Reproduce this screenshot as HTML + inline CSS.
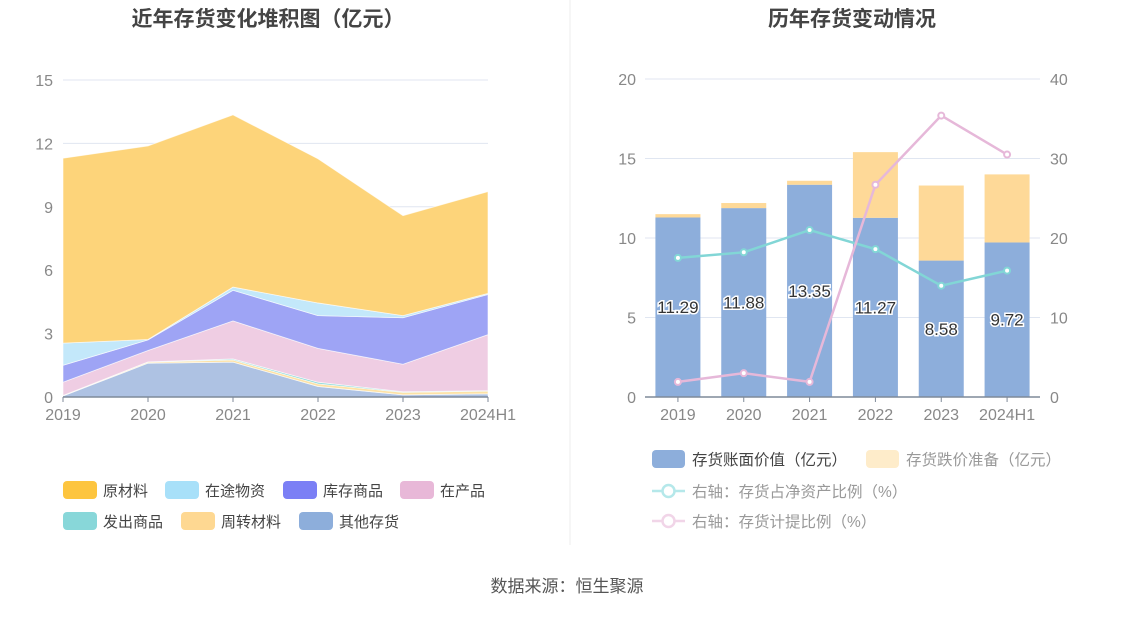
<!DOCTYPE html>
<html><head><meta charset="utf-8">
<style>
body{margin:0;background:#fff;width:1134px;height:612px;overflow:hidden;font-family:"Liberation Sans","Noto Sans CJK SC",sans-serif;}
svg text{font-family:"Liberation Sans","Noto Sans CJK SC",sans-serif;}
</style></head>
<body>
<svg id="c" width="1134" height="612" xmlns="http://www.w3.org/2000/svg">
<text x="268" y="26" text-anchor="middle" font-size="21" font-weight="bold" fill="#444">近年存货变化堆积图（亿元）</text>
<text x="852" y="26" text-anchor="middle" font-size="21" font-weight="bold" fill="#444">历年存货变动情况</text>
<line x1="570" y1="0" x2="570" y2="545" stroke="#eee" stroke-width="1"/>
<text x="567" y="592" text-anchor="middle" font-size="17" fill="#555">数据来源：恒生聚源</text>
<g id="left"></g><g id="right"></g>
</svg>
<script>
const years=["2019","2020","2021","2022","2023","2024H1"];
const leftTicks=[0,3,6,9,12,15];
const seriesNames=["其他存货","周转材料","发出商品","在产品","库存商品","在途物资","原材料"];
const otherInv=[0.05,1.6,1.65,0.5,0.1,0.15];
const turnover=[0.02,0.05,0.1,0.12,0.12,0.13];
const shipped=[0.0,0.01,0.05,0.08,0.03,0.02];
const wip=[0.63,0.54,1.8,1.6,1.3,2.65];
const finished=[0.8,0.5,1.45,1.55,2.2,1.9];
const transit=[1.05,0.02,0.15,0.6,0.1,0.05];
const rawMat=[8.75,9.16,8.15,6.82,4.73,4.82];
const fillColors=["#aec2e3","#fde2a6","#8ad8d8","#efcde3","#9ea4f5","#c3e8fa","#fdd47a"];
const legendColors=["#8daedb","#fed892","#88d7d9","#e8b8d8","#7b7ff5","#a8e0f9","#fdc53f"];

const rightTicks=[0,5,10,15,20];
const rightTicks2=[0,10,20,30,40];
const bookValue=[11.29,11.88,13.35,11.27,8.58,9.72];
const reserve=[0.21,0.32,0.25,4.13,4.72,4.28];
const ratioNet=[17.5,18.2,21.0,18.6,14.0,15.9];
const ratioProv=[1.9,3.0,1.9,26.7,35.4,30.5];

const NS="http://www.w3.org/2000/svg";
function mk(p,tag,at,txt){const e=document.createElementNS(NS,tag);for(const k in at)e.setAttribute(k,at[k]);if(txt!==undefined)e.textContent=txt;p.appendChild(e);return e;}

// LEFT
const L=document.getElementById('left');
const lx0=63,lx1=488,ly0=397,ly1=80,lmax=15;
const lx=i=>lx0+i*(lx1-lx0)/(years.length-1);
const ly=v=>ly0-v/lmax*(ly0-ly1);
leftTicks.forEach(t=>{
 if(t>0){const g=mk(L,'line',{x1:lx0,x2:lx1,y1:ly(t),y2:ly(t),stroke:'#e0e6f1'});}
 const tx=mk(L,'text',{x:53,y:ly(t)+6,'text-anchor':'end','font-size':16,fill:'#888'},String(t));
 
});
const stackData=[otherInv,turnover,shipped,wip,finished,transit,rawMat];
let base=years.map(()=>0);
stackData.forEach((s,si)=>{
 const top=base.map((b,i)=>b+s[i]);
 let d='M'+top.map((v,i)=>lx(i)+','+ly(v)).join(' L');
 for(let i=years.length-1;i>=0;i--)d+=' L'+lx(i)+','+ly(base[i]);
 d+='Z';
 const p=mk(L,'path',{d:d,fill:fillColors[si],stroke:'#fff','stroke-width':0.8,'stroke-opacity':0.7});
 
 
 base=top;
});
const ax=mk(L,'line',{x1:lx0,x2:lx1,y1:ly0,y2:ly0,stroke:'#7f8a99','stroke-width':1.5});

years.forEach((y,i)=>{
 mk(L,'line',{x1:lx(i),x2:lx(i),y1:ly0,y2:ly0+5,stroke:'#7f8a99'});
 const t=mk(L,'text',{x:lx(i),y:420,'text-anchor':'middle','font-size':16,fill:'#888'},y);
 
});
const lleg=[["原材料",6,63,490],["在途物资",5,165,490],["库存商品",4,283,490],["在产品",3,400,490],["发出商品",2,63,521],["周转材料",1,181,521],["其他存货",0,299,521]];
lleg.forEach(([n,ci,x,y])=>{
 const g=mk(L,'g',{});
 
 mk(g,'rect',{x:x,y:y-9,width:34,height:18,rx:4,fill:legendColors[ci]});
 mk(g,'text',{x:x+40,y:y+6,'font-size':15,fill:'#444'},n);
});

// RIGHT
const R=document.getElementById('right');
const rx0=645,rx1=1040,ry0=397,ry1=79;
const bw=(rx1-rx0)/years.length;
const rx=i=>rx0+bw*(i+0.5);
const ry=v=>ry0-v/20*(ry0-ry1);
const ry2=v=>ry0-v/40*(ry0-ry1);
rightTicks.forEach((t,k)=>{
 if(t>0){const g=mk(R,'line',{x1:rx0,x2:rx1,y1:ry(t),y2:ry(t),stroke:'#e0e6f1'});}
 const a=mk(R,'text',{x:636,y:ry(t)+6,'text-anchor':'end','font-size':16,fill:'#888'},String(t));
 
 const b=mk(R,'text',{x:1050,y:ry(t)+6,'font-size':16,fill:'#888'},String(rightTicks2[k]));
 
});
years.forEach((y,i)=>{
 const b=mk(R,'rect',{x:rx(i)-22.5,y:ry(bookValue[i]),width:45,height:ry0-ry(bookValue[i]),fill:'#8daedb'});
 
 const r=mk(R,'rect',{x:rx(i)-22.5,y:ry(bookValue[i]+reserve[i]),width:45,height:ry(bookValue[i])-ry(bookValue[i]+reserve[i]),fill:'#fed998'});
 
});
const rax=mk(R,'line',{x1:rx0,x2:rx1,y1:ry0,y2:ry0,stroke:'#7f8a99','stroke-width':1.5});

years.forEach((y,i)=>{
 mk(R,'line',{x1:rx(i),x2:rx(i),y1:ry0,y2:ry0+5,stroke:'#7f8a99'});
 const t=mk(R,'text',{x:rx(i),y:420,'text-anchor':'middle','font-size':16,fill:'#888'},y);
 
});
function line(vals,col,name){
 const p=mk(R,'polyline',{points:vals.map((v,i)=>rx(i)+','+ry2(v)).join(' '),fill:'none',stroke:col,'stroke-width':2.5});
 
 vals.forEach((v,i)=>{const c=mk(R,'circle',{cx:rx(i),cy:ry2(v),r:3,fill:'#fff',stroke:col,'stroke-width':2});
 });
}
line(ratioNet,'#82d6d6','line-net-asset-ratio');
line(ratioProv,'#e6b8d9','line-provision-ratio');
years.forEach((y,i)=>{
 const t=mk(R,'text',{x:rx(i),y:ry(bookValue[i]/2)+6,'text-anchor':'middle','font-size':17,fill:'#333',stroke:'#fff','stroke-width':3,'paint-order':'stroke'},bookValue[i].toFixed(2));
 
});
const rl=[["存货账面价值（亿元）",'rect','#8daedb','#444',652,459],["存货跌价准备（亿元）",'rect','#feecca','#999',866,459],["右轴：存货占净资产比例（%）",'line','#b5e8ea','#999',652,491],["右轴：存货计提比例（%）",'line','#f1d5e8','#999',652,521]];
rl.forEach(([n,type,c,tc,x,y])=>{
 const g=mk(R,'g',{});
 
 if(type==='rect')mk(g,'rect',{x:x,y:y-9,width:33,height:18,rx:4,fill:c});
 else{mk(g,'line',{x1:x,x2:x+33,y1:y,y2:y,stroke:c,'stroke-width':2.5});mk(g,'circle',{cx:x+16.5,cy:y,r:6,fill:'#fff',stroke:c,'stroke-width':2.5});}
 mk(g,'text',{x:x+40,y:y+6,'font-size':15.5,fill:tc},n);
});
</script>
</body></html>
